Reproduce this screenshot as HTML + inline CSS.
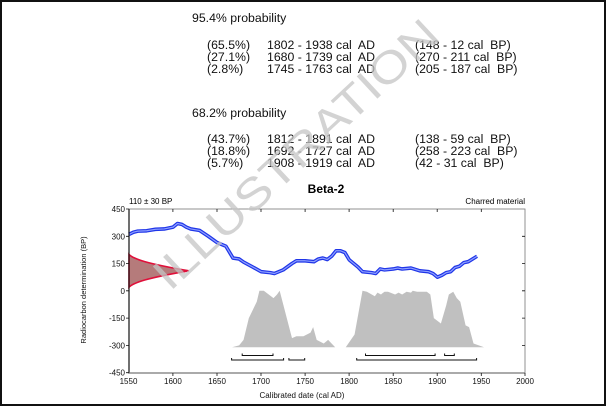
<!DOCTYPE html>
<html><head><meta charset="utf-8"><style>
html,body{margin:0;padding:0;background:#fff}
svg{display:block}
text{font-family:"Liberation Sans",Arial,sans-serif;white-space:pre}
</style></head><body>
<svg width="607" height="408" viewBox="0 0 607 408" xmlns="http://www.w3.org/2000/svg" xml:space="preserve">
<rect x="1" y="1" width="604" height="404" fill="#fff" stroke="#111" stroke-width="2"/>
<g font-size="12.3" fill="#111">
<text x="192" y="22">95.4% probability</text>
<text x="207" y="49">(65.5%)</text><text x="267" y="49">1802 - 1938 cal&#160; AD</text><text x="415" y="49">(148 - 12 cal&#160; BP)</text>
<text x="207" y="61">(27.1%)</text><text x="267" y="61">1680 - 1739 cal&#160; AD</text><text x="415" y="61">(270 - 211 cal&#160; BP)</text>
<text x="207" y="73">(2.8%)</text><text x="267" y="73">1745 - 1763 cal&#160; AD</text><text x="415" y="73">(205 - 187 cal&#160; BP)</text>
<text x="192" y="117">68.2% probability</text>
<text x="207" y="143">(43.7%)</text><text x="267" y="143">1812 - 1891 cal&#160; AD</text><text x="415" y="143">(138 - 59 cal&#160; BP)</text>
<text x="207" y="155">(18.8%)</text><text x="267" y="155">1692 - 1727 cal&#160; AD</text><text x="415" y="155">(258 - 223 cal&#160; BP)</text>
<text x="207" y="167">(5.7%)</text><text x="267" y="167">1908 - 1919 cal&#160; AD</text><text x="415" y="167">(42 - 31 cal&#160; BP)</text>
</g>
<text x="326" y="193" font-size="12" font-weight="bold" text-anchor="middle">Beta-2</text>
<text x="129" y="204" font-size="8">110 ± 30 BP</text>
<text x="525" y="204" font-size="8" text-anchor="end">Charred material</text>
<rect x="129" y="209" width="396" height="164" fill="none" stroke="#777" stroke-width="0.8"/>
<g transform="translate(129,290.8) scale(0.8811,-0.1819)">
<path d="M117,-310 L125,-300 L130,-270 L136,-150 L145,-60 L148,0 L153,0 L164,-40 L168,-20 L171,0 L185,-260 L190,-250 L198,-250 L206,-230 L209,-200 L213,-270 L221,-290 L226,-270 L234,-310 Z M246,-310 L256,-240 L265,0 L270,-5 L279,-30 L282,-10 L286,-20 L290,-5 L294,-5 L302,-20 L306,-10 L310,-20 L315,-5 L320,-10 L322,0 L327,-5 L338,-5 L342,-20 L346,-150 L354,-180 L360,-80 L363,-20 L368,-5 L372,-40 L376,-60 L382,-190 L386,-200 L391,-290 L403,-310 Z" fill="#c0c0c0"/>
<path d="M0,200 C5,175 20,150 68,110 C20,70 5,45 0,20 Z" fill="#a86464" fill-opacity="0.85" stroke="#e0103a" stroke-width="1.6" vector-effect="non-scaling-stroke"/>
<polyline fill="none" stroke-linejoin="round" points="0,310 5,322 10,328 20,330 30,338 40,340 50,350 55,370 60,365 65,350 70,340 80,332 90,300 100,265 110,245 118,180 125,175 130,158 140,132 150,105 160,100 165,95 175,115 185,150 190,165 200,165 210,160 215,175 220,180 225,172 230,190 235,220 240,220 245,210 250,170 260,130 265,105 275,100 280,95 285,120 290,115 300,120 305,125 310,120 320,125 330,110 340,105 345,95 350,75 355,85 360,100 365,105 370,128 375,135 380,155 385,160 395,190" stroke="#1f35e8" stroke-width="3.6" vector-effect="non-scaling-stroke"/>
<polyline fill="none" stroke-linejoin="round" points="0,310 5,322 10,328 20,330 30,338 40,340 50,350 55,370 60,365 65,350 70,340 80,332 90,300 100,265 110,245 118,180 125,175 130,158 140,132 150,105 160,100 165,95 175,115 185,150 190,165 200,165 210,160 215,175 220,180 225,172 230,190 235,220 240,220 245,210 250,170 260,130 265,105 275,100 280,95 285,120 290,115 300,120 305,125 310,120 320,125 330,110 340,105 345,95 350,75 355,85 360,100 365,105 370,128 375,135 380,155 385,160 395,190" stroke="#8fa0ff" stroke-width="1.2" vector-effect="non-scaling-stroke"/>
</g>
<g stroke="#111" stroke-width="1" fill="none">
<path d="M231.6,358 V360 H283.6 V358 M288.9,358 V360 H304.7 V358 M356.7,358 V360 H476.6 V358"/>
<path d="M242.2,353.5 V355.5 H273 V353.5 M365.5,353.5 V355.5 H435.1 V353.5 M444.6,353.5 V355.5 H454.3 V353.5"/>
</g>
<g stroke="#111" stroke-width="1.2">
<line x1="129" y1="209" x2="129" y2="373.5"/>
<line x1="129" y1="373" x2="525" y2="373" stroke="#777"/>
</g>
<g stroke="#111" stroke-width="0.8">
<path d="M126,209H129M126,236.3H129M126,263.5H129M126,290.8H129M126,318.1H129M126,345.4H129M126,372.7H129"/>
<path d="M522,236.3H525M522,263.5H525M522,290.8H525M522,318.1H525M522,345.4H525"/>
<path d="M172.9,373V376M217,373V376M261,373V376M305.1,373V376M349.1,373V376M393.2,373V376M437.2,373V376M481.3,373V376M525,373V376"/>
<path d="M172.9,209V212M217,209V212M261,209V212M305.1,209V212M349.1,209V212M393.2,209V212M437.2,209V212M481.3,209V212"/>
</g>
<g font-size="8" fill="#111" text-anchor="end">
<text x="125" y="212">450</text><text x="125" y="239.3">300</text><text x="125" y="266.5">150</text><text x="125" y="293.8">0</text><text x="125" y="321.1">-150</text><text x="125" y="348.4">-300</text><text x="125" y="375.7">-450</text>
</g>
<g font-size="8" fill="#111" text-anchor="middle">
<text x="128.5" y="384">1550</text><text x="172.9" y="384">1600</text><text x="217" y="384">1650</text><text x="261" y="384">1700</text><text x="305.1" y="384">1750</text><text x="349.1" y="384">1800</text><text x="393.2" y="384">1850</text><text x="437.2" y="384">1900</text><text x="481.3" y="384">1950</text><text x="525" y="384">2000</text>
<text x="302" y="398">Calibrated date (cal AD)</text>
<text transform="translate(86,290) rotate(-90)" font-size="7.5">Radiocarbon determination (BP)</text>
</g>
<text transform="translate(170,292) rotate(-43)" font-size="44" fill="#c4c4c4" fill-opacity="0.75" textLength="372" lengthAdjust="spacingAndGlyphs">ILLUSTRATION</text>
</svg>
</body></html>
